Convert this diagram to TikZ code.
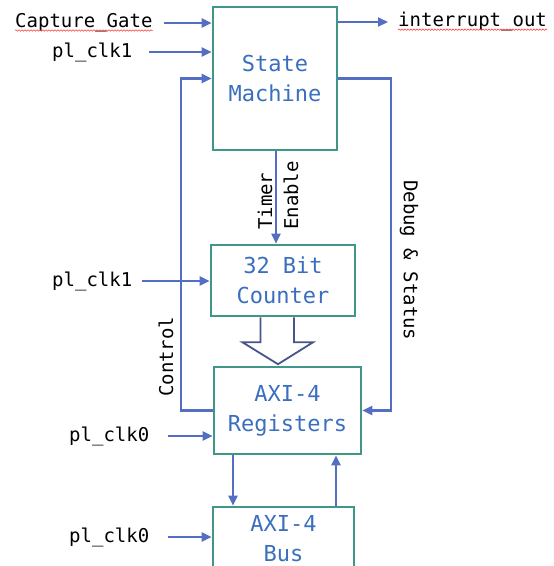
\documentclass[tikz,border=0pt]{standalone}
\usepackage{fontspec}
\setmonofont{DejaVu Sans Mono}
\usetikzlibrary{arrows.meta,calc,decorations.pathmorphing}
\definecolor{boxcol}{RGB}{64,150,136}
\definecolor{txtcol}{RGB}{58,110,190}
\definecolor{arrcol}{RGB}{84,110,196}
\definecolor{hollowcol}{RGB}{72,84,140}
\begin{document}
\begin{tikzpicture}[x=1pt,y=-1pt,
  blockbox/.style={draw=boxcol,line width=2.6pt,inner sep=0pt,align=center,
    text=txtcol,font=\ttfamily\fontsize{22}{30}\selectfont},
  lbl/.style={inner sep=0pt,font=\ttfamily\fontsize{19}{22}\selectfont,text=black},
  arr/.style={draw=arrcol,line width=2.2pt,-{Triangle[length=10pt,width=9pt]}},
  spell/.style={draw=red!75,line width=0.6pt,decorate,decoration={snake,amplitude=0.7pt,segment length=3pt}}]
\useasboundingbox (0,0) rectangle (554,566);
\clip (0,0) rectangle (554,566);
% blocks
\node[blockbox,minimum width=124pt,minimum height=143pt] (sm) at (275,78.5) {State\\Machine};
\node[blockbox,minimum width=144pt,minimum height=71pt] (ctr) at (283,280.5) {32 Bit\\Counter};
\node[blockbox,minimum width=147pt,minimum height=87pt] (reg) at (287.5,410.5) {AXI-4\\Registers};
\node[blockbox,minimum width=141pt,minimum height=64pt] (bus) at (283.5,539) {AXI-4\\Bus};
% labels
\node[lbl,anchor=west] (cap) at (15,23) {Capture\_Gate};
\node[lbl,anchor=west] (clkA) at (52,52) {pl\_clk1};
\node[lbl,anchor=west] (intr) at (398,22) {interrupt\_out};
\node[lbl,anchor=west] (clkB) at (52,281) {pl\_clk1};
\node[lbl,anchor=west] (clkC) at (69,436) {pl\_clk0};
\node[lbl,anchor=west] (clkD) at (69,537) {pl\_clk0};
\node[lbl,anchor=west,rotate=90] (timer) at (265,230) {Timer};
\node[lbl,anchor=west,rotate=90] (enab) at (291,230) {Enable};
\node[lbl,anchor=west,rotate=-90] (dbg) at (409,180) {Debug \& Status};
\node[lbl,anchor=west,rotate=90] (ctl) at (166,397) {Control};
% spell-check underlines
\draw[spell] ([yshift=2pt]cap.south west) -- ([yshift=2pt]cap.south east);
\draw[spell] ([yshift=2pt]intr.south west) -- ([yshift=2pt]intr.south east);
% inputs
\draw[arr] ([xshift=11pt]cap.east) -- (cap.east -| sm.west);
\draw[arr] ([xshift=17pt]clkA.east) -- (clkA.east -| sm.west);
\draw[arr] ([xshift=10pt]clkB.east) -- (clkB.east -| ctr.west);
\draw[arr] ([xshift=19pt]clkC.east) -- (clkC.east -| reg.west);
\draw[arr] ([xshift=19pt]clkD.east) -- (clkD.east -| bus.west);
\draw[arr] (sm.east |- intr.west) -- ([xshift=-10pt]intr.west);
% feedback loops
\draw[arr] (reg.west) -- ++(-32,0) |- (sm.west);
\draw[arr] (sm.east) -- ++(53,0) |- (reg.east);
% timer enable
\draw[arr] ([xshift=1pt]sm.south) -- ([xshift=1pt]sm.south |- ctr.north);
% hollow arrow
\coordinate (ha) at ([xshift=-5.5pt]ctr.south);
\draw[hollowcol,line width=1.8pt,fill=white,line join=miter]
  ($(ha)+(-17,0)$) -- ++(0,25) -- ++(-18,0) -- ($(ha |- reg.north)+(0.5,-1.5)$)
  -- ($(ha)+(35.5,25)$) -- ++(-19,0) -- ++(0,-25);
% registers <-> bus
\draw[arr] ([xshift=-54.5pt]reg.south) -- ([xshift=-54.5pt]reg.south |- bus.north);
\draw[arr] ([xshift=52.5pt]bus.north) -- ([xshift=52.5pt]bus.north |- reg.south);
\end{tikzpicture}
\end{document}
